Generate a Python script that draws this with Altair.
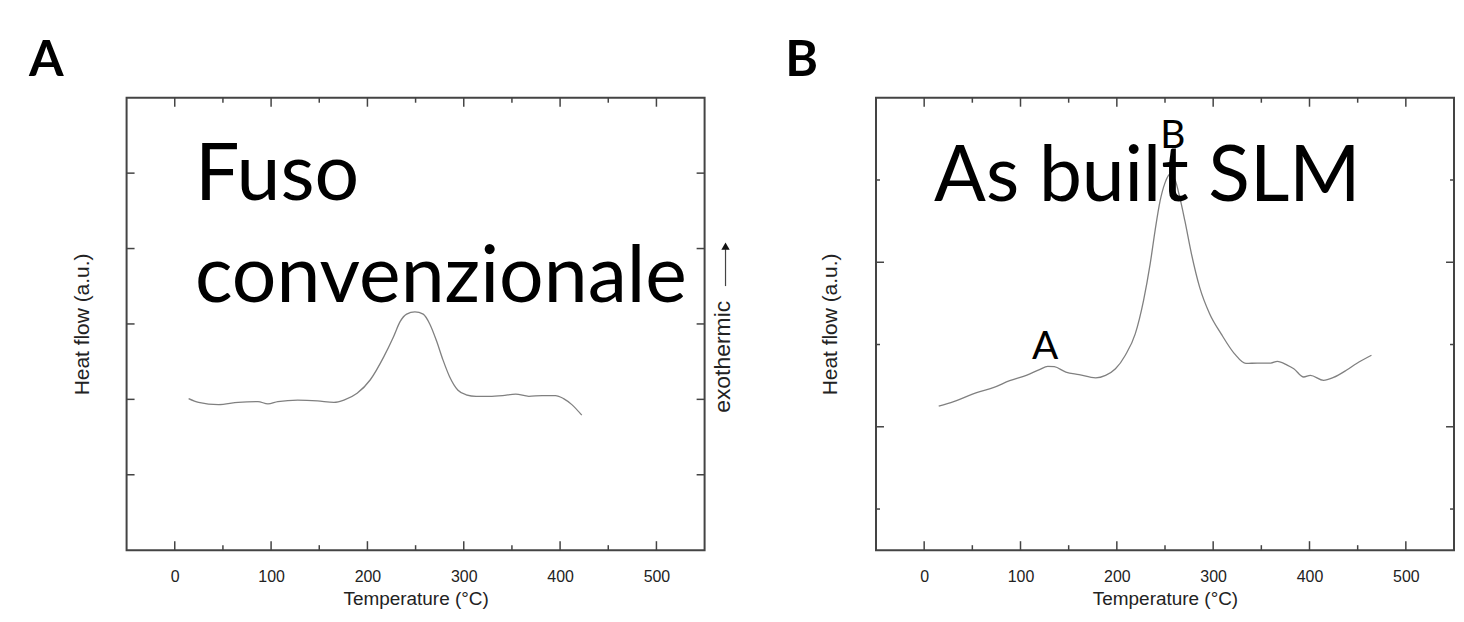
import altair as alt
import pandas as pd

# ---------------- data ----------------
# Panel A: "Fuso convenzionale"
temp_a = [14.4, 24.7, 45.3, 65.8, 86.4, 96.7, 107, 127.6, 148.1, 165.3, 175.6,
          189.3, 203, 216.8, 227.1, 233.9, 240.7, 249.3, 257.9, 264.7, 271.6,
          278.5, 285.3, 294, 302.5, 312.8, 326.5, 340.3, 353.9, 367.6, 381.4,
          395.1, 403.6, 412.2, 422.5]
heat_a = [2.01, 1.96, 1.93, 1.96, 1.97, 1.94, 1.97, 1.99, 1.98, 1.96, 1.99,
          2.08, 2.26, 2.56, 2.83, 3.03, 3.13, 3.16, 3.13, 3.00, 2.78,
          2.52, 2.30, 2.12, 2.06, 2.04, 2.04, 2.05, 2.07, 2.04, 2.05,
          2.05, 2.01, 1.93, 1.79]

# Panel B: "As built SLM"
temp_b = [15.1, 30.6, 54.5, 71.7, 88.8, 106, 119.7, 128.3, 135.1, 147.1, 160.8,
          178, 188.3, 198.6, 208.8, 219.1, 227.7, 234.6, 239.7, 244.9, 250,
          255.2, 260.3, 265.4, 270.6, 277.5, 286, 296.3, 308.3, 322, 334,
          346, 359.8, 366.6, 376.8, 383.7, 394, 400.9, 414.6, 424.9, 438.6,
          448.9, 464.3]
heat_b = [3.50, 3.61, 3.83, 3.95, 4.12, 4.25, 4.39, 4.47, 4.46, 4.33, 4.27,
          4.19, 4.25, 4.41, 4.74, 5.26, 6.07, 6.96, 7.77, 8.49, 8.93,
          9.14, 9.01, 8.57, 8.01, 7.20, 6.39, 5.75, 5.26, 4.78, 4.54,
          4.55, 4.55, 4.59, 4.50, 4.41, 4.21, 4.25, 4.13, 4.20, 4.38,
          4.54, 4.74]

x_domain = [-50, 550]
x_label_values = [0, 100, 200, 300, 400, 500]
x_minor_values = [50, 150, 250, 350, 450]

y_domain_a = [0, 6]
y_ticks_a_long = [1, 2, 3, 4, 5]
y_ticks_a_short = []

y_domain_b = [0, 11]
y_ticks_b_long = [3, 7]
y_ticks_b_short = [1, 5, 9]

title_a_lines = ["Fuso", "convenzionale"]
title_a_T = [21, 21]
title_a_v = [4.65, 3.29]

title_b_lines = ["As built SLM"]
title_b_T = [10.3]
title_b_v = [8.5]

peak_labels = ["A", "B"]
peak_T = [125.5, 258]
peak_v = [4.65, 9.78]

panel_letters = ["A", "B"]

# ---------------- styling ----------------
W, H = 580, 454
AX_FONT = "Liberation Sans, Arial, sans-serif"
BIG_FONT = "Lato, Open Sans, sans-serif"
LINE_COLOR = "#808080"
FRAME = "#444444"

x_scale = alt.Scale(domain=x_domain, nice=False, zero=False)

X_AXIS = alt.Axis(values=x_label_values, title="Temperature (°C)", ticks=False,
                  domain=False, grid=False, labelPadding=18, titlePadding=6,
                  labelFont=AX_FONT, labelFontSize=16, titleFont=AX_FONT,
                  titleFontSize=19, titleFontWeight="normal",
                  labelColor="#222", titleColor="#222", labelFlush=False)


def y_axis(pad):
    return alt.Axis(title="Heat flow (a.u.)", labels=False, ticks=False,
                    domain=False, grid=False, titlePadding=pad,
                    titleFont=AX_FONT, titleFontSize=21,
                    titleFontWeight="normal", titleColor="#222")


def X(field="T:Q"):
    return alt.X(field, scale=x_scale, axis=X_AXIS, title="Temperature (°C)")


def Y(y_scale, yax, field="v:Q"):
    return alt.Y(field, scale=y_scale, axis=yax, title="Heat flow (a.u.)")


def x_tick_layers(values, length):
    df = pd.DataFrame({"T": values})
    bottom = alt.Chart(df).mark_rule(color=FRAME, strokeWidth=1.5).encode(
        x=X(), y=alt.value(H), y2=alt.value(H - length))
    top = alt.Chart(df).mark_rule(color=FRAME, strokeWidth=1.5).encode(
        x=X(), y=alt.value(0), y2=alt.value(length))
    return [bottom, top]


def y_tick_layers(values, length, y_scale, yax):
    if not values:
        return []
    df = pd.DataFrame({"v": values})
    left = alt.Chart(df).mark_rule(color=FRAME, strokeWidth=1.5).encode(
        y=Y(y_scale, yax), x=alt.value(0), x2=alt.value(length))
    right = alt.Chart(df).mark_rule(color=FRAME, strokeWidth=1.5).encode(
        y=Y(y_scale, yax), x=alt.value(W - length), x2=alt.value(W))
    return [left, right]


def panel(temps, heats, ydom, long_ticks, short_ticks, t_lines, t_T, t_v,
          letter, ypad, letter_dx, big_size, extra=None, peaks=None):
    y_scale = alt.Scale(domain=ydom, nice=False, zero=False)
    yax = y_axis(ypad)
    df = pd.DataFrame({"T": temps, "v": heats})
    line = alt.Chart(df).mark_line(color=LINE_COLOR, strokeWidth=1.3,
                                   interpolate="monotone").encode(
        x=X(), y=Y(y_scale, yax), order="T:Q")
    layers = [line]
    layers += x_tick_layers(x_label_values, 9)
    layers += x_tick_layers(x_minor_values, 5)
    layers += y_tick_layers(long_ticks, 8, y_scale, yax)
    layers += y_tick_layers(short_ticks, 4, y_scale, yax)

    tdf = pd.DataFrame({"T": t_T, "v": t_v, "label": t_lines})
    big = alt.Chart(tdf).mark_text(align="left", baseline="alphabetic",
                                   font=BIG_FONT, fontSize=big_size,
                                   color="#000").encode(
        x=X(), y=Y(y_scale, yax), text="label:N")
    layers.append(big)

    if peaks is not None:
        pdf = pd.DataFrame({"T": peak_T, "v": peak_v, "label": peak_labels})
        pk = alt.Chart(pdf).mark_text(align="center", baseline="alphabetic",
                                      font=BIG_FONT, fontSize=39,
                                      color="#000").encode(
            x=X(), y=Y(y_scale, yax), text="label:N")
        layers.append(pk)

    ldf = pd.DataFrame({"label": [letter]})
    let = alt.Chart(ldf).mark_text(align="left", baseline="alphabetic",
                                   font=BIG_FONT, fontSize=50,
                                   fontWeight="bold", color="#000").encode(
        x=alt.value(letter_dx), y=alt.value(-22), text="label:N")
    layers.append(let)

    if extra:
        layers += extra

    return alt.layer(*layers).properties(width=W, height=H)


# "exothermic" label with arrow between the panels
exo_df = pd.DataFrame({"label": ["exothermic"]})
exo_text = alt.Chart(exo_df).mark_text(angle=270, align="center",
                                       baseline="middle", font=AX_FONT,
                                       fontSize=23, color="#222").encode(
    x=alt.value(W + 18), y=alt.value(260), text="label:N")
arrow_df = pd.DataFrame({"label": ["arrow"]})
arrow_line = alt.Chart(arrow_df).mark_rule(color="#444", strokeWidth=1.2).encode(
    x=alt.value(W + 21), y=alt.value(152), y2=alt.value(189))
arrow_head = alt.Chart(arrow_df).mark_point(shape="triangle-up", filled=True,
                                            color="#111", size=70,
                                            opacity=1).encode(
    x=alt.value(W + 21), y=alt.value(149))

left = panel(temp_a, heat_a, y_domain_a, y_ticks_a_long, y_ticks_a_short,
             title_a_lines, title_a_T, title_a_v, panel_letters[0], 34, -98, 79,
             extra=[exo_text, arrow_line, arrow_head])
right = panel(temp_b, heat_b, y_domain_b, y_ticks_b_long, y_ticks_b_short,
              title_b_lines, title_b_T, title_b_v, panel_letters[1], 36, -91, 77,
              peaks=True)

chart = alt.hconcat(left, right, spacing=49).properties(
    padding={"left": 20, "top": 26, "right": 0, "bottom": 0},
    background="white",
).configure_view(stroke=FRAME, strokeWidth=2)

chart.save("out.html", embed_options={"renderer": "svg", "actions": False})
